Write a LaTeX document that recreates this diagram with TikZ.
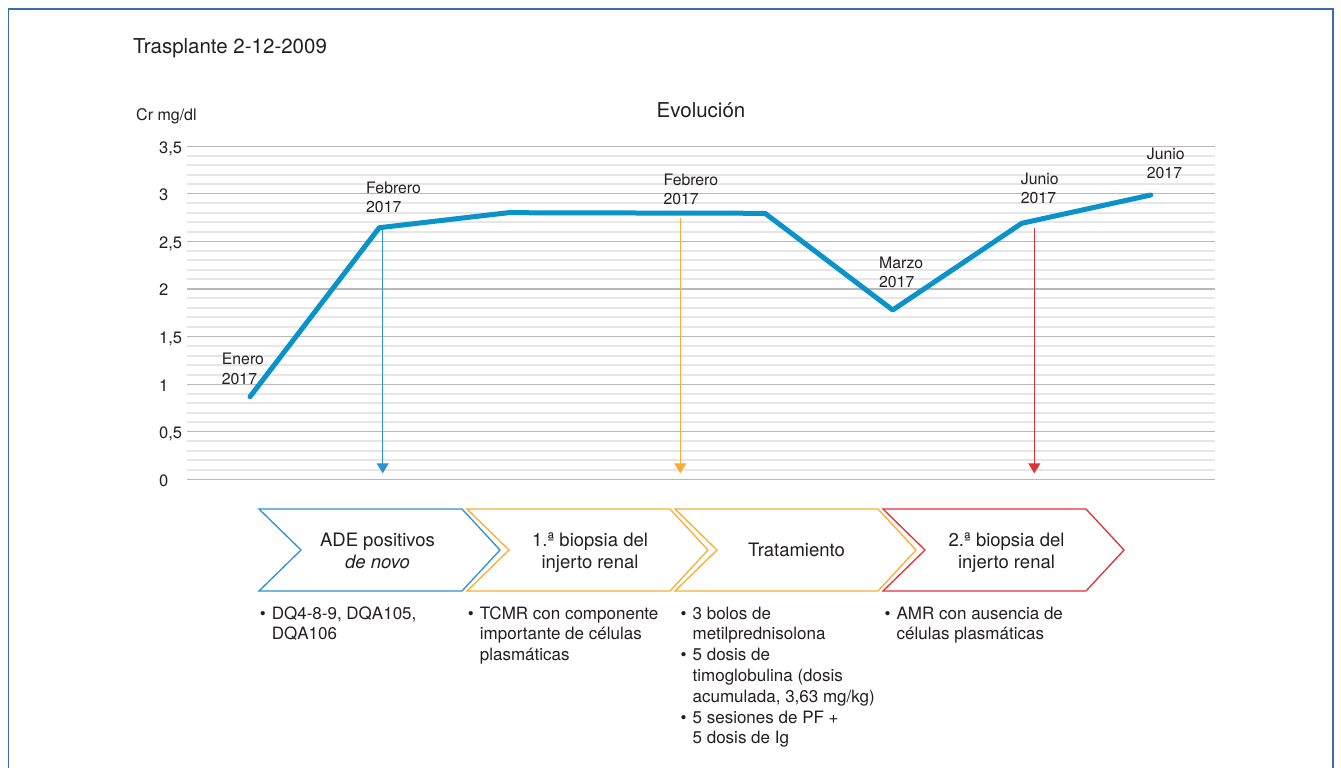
\documentclass[tikz,border=0pt]{standalone}
\usepackage{fontspec}
\setmainfont{TeX Gyre Heros}
\usetikzlibrary{arrows.meta}
\definecolor{frameblue}{HTML}{3A6DB0}
\definecolor{lineblue}{HTML}{0A93C9}
\definecolor{cblue}{HTML}{2E90D0}
\definecolor{corange}{HTML}{F7AE33}
\definecolor{cred}{HTML}{E0303A}
\definecolor{majorgrid}{HTML}{B8B8B8}
\definecolor{minorgrid}{HTML}{E6E6E6}
\definecolor{txt}{HTML}{231F20}
\tikzset{
  lbl/.style={inner sep=0pt, anchor=base west, text=txt, font=\fontsize{15.8}{19.3}\selectfont},
  tick/.style={inner sep=0pt, anchor=base west, text=txt, font=\fontsize{16.5}{19}\selectfont},
  chevtext/.style={inner sep=0pt, anchor=base, text=txt, font=\fontsize{18.5}{21.7}\selectfont},
  bullets/.style={inner sep=0pt, anchor=base west, text=txt, font=\fontsize{17}{20.8}\selectfont},
  heading/.style={inner sep=0pt, text=txt, font=\fontsize{20.5}{24}\selectfont},
  chev/.style={line width=1.3pt, fill=white, line join=miter},
  evarrow/.style={line width=1pt, -{Triangle[width=12pt,length=10pt]}},
  majorline/.style={majorgrid, line width=1.2pt},
  minorline/.style={minorgrid, line width=2pt},
  dataline/.style={lineblue, line width=5pt, line cap=round, line join=round}
}
\begin{document}
\begin{tikzpicture}[x=1pt,y=-1pt]
\useasboundingbox (0,0) rectangle (1341,768);
\clip (0,0) rectangle (1341,768);
\fill[white] (0,0) rectangle (1341,768);
% frame
\draw[frameblue, line width=1.3pt] (8.5,9) rectangle (1333,790);

% titles
\node[heading, anchor=base west] (title) at (133,53.3) {Trasplante 2-12-2009};
\node[heading, anchor=base] (evol) at (701,117.5) {Evolución};
\node[inner sep=0pt, anchor=base west, text=txt, font=\fontsize{16}{19}\selectfont] (ylab) at (136,120) {Cr mg/dl};

% grid
\foreach \k in {1,...,34}{
  \pgfmathtruncatemacro{\r}{mod(\k,5)}
  \ifnum\r=0\else
    \draw[minorline] (187,{479.3-\k*9.52}) -- (1215,{479.3-\k*9.52});
  \fi
}
\foreach \v/\t in {0/0,0.5/{0,5},1/1,1.5/{1,5},2/2,2.5/{2,5},3/3,3.5/{3,5}}{
  \draw[majorline] (187,{479.3-\v*95.2}) -- (1215,{479.3-\v*95.2});
  \node[tick] at (159,{479.3-\v*95.2+6.9}) {\t};
}

% data
\coordinate (p1) at (250,396.7);
\coordinate (p2) at (379.3,227.7);
\coordinate (p3) at (508.3,212.7);
\coordinate (p4) at (765,213.3);
\coordinate (p5) at (892.7,310);
\coordinate (p6) at (1021.7,223.3);
\coordinate (p7) at (1150.7,195);

% arrows (under data line)
\coordinate (s1) at (382.7,230);   \coordinate (e1) at (382.7,473.3);
\coordinate (s2) at (680.3,217.7); \coordinate (e2) at (680.3,473.3);
\coordinate (s3) at (1034.3,228.3);\coordinate (e3) at (1034.3,473.3);
\draw[evarrow, cblue] (s1) -- (e1);
\draw[evarrow, corange] (s2) -- (e2);
\draw[evarrow, cred] (s3) -- (e3);

\draw[dataline] (p1) -- (p2) -- (p3) -- (p4) -- (p5) -- (p6) -- (p7);

% point labels
\node[lbl] (l1) at (221.7,364.7) {\begin{tabular}[t]{@{}l@{}}Enero\\2017\end{tabular}};
\node[lbl] (l2) at (366,193) {\begin{tabular}[t]{@{}l@{}}Febrero\\2017\end{tabular}};
\node[lbl] (l3) at (663.3,185.4) {\begin{tabular}[t]{@{}l@{}}Febrero\\2017\end{tabular}};
\node[lbl] (l4) at (879,268) {\begin{tabular}[t]{@{}l@{}}Marzo\\2017\end{tabular}};
\node[lbl] (l5) at (1020.7,184) {\begin{tabular}[t]{@{}l@{}}Junio\\2017\end{tabular}};
\node[lbl] (l6) at (1146.7,159) {\begin{tabular}[t]{@{}l@{}}Junio\\2017\end{tabular}};

% chevrons
\foreach \L/\c in {259/cblue,467/corange,675/corange,883/cred}{
  \draw[chev, draw=\c] (\L,509) -- ({\L+203},509) -- ({\L+241},550) -- ({\L+203},591) -- (\L,591) -- ({\L+42},550) -- cycle;
}
\node[chevtext] (c1) at (377.5,546.7) {\begin{tabular}[t]{@{}c@{}}ADE positivos\\\textit{de novo}\end{tabular}};
\node[chevtext] (c2) at (590,546.7) {\begin{tabular}[t]{@{}c@{}}1.ª biopsia del\\injerto renal\end{tabular}};
\node[chevtext] (c3) at (796.5,556.8) {Tratamiento};
\node[chevtext] (c4) at (1006.5,546.7) {\begin{tabular}[t]{@{}c@{}}2.ª biopsia del\\injerto renal\end{tabular}};

% bullet texts
\node[bullets] (b1) at (259.7,619) {\begin{tabular}[t]{@{}l@{\hspace{6pt}}l@{}}\textbullet & DQ4-8-9, DQA105,\\ & DQA106\end{tabular}};
\node[bullets] (b2) at (467.7,619) {\begin{tabular}[t]{@{}l@{\hspace{6pt}}l@{}}\textbullet & TCMR con componente\\ & importante de células\\ & plasmáticas\end{tabular}};
\node[bullets] (b3) at (680.5,619) {\begin{tabular}[t]{@{}l@{\hspace{6pt}}l@{}}\textbullet & 3 bolos de\\ & metilprednisolona\\\textbullet & 5 dosis de\\ & timoglobulina (dosis\\ & acumulada, 3,63 mg/kg)\\\textbullet & 5 sesiones de PF +\\ & 5 dosis de Ig\end{tabular}};
\node[bullets] (b4) at (884.5,619) {\begin{tabular}[t]{@{}l@{\hspace{6pt}}l@{}}\textbullet & AMR con ausencia de\\ & células plasmáticas\end{tabular}};
\end{tikzpicture}
\end{document}
